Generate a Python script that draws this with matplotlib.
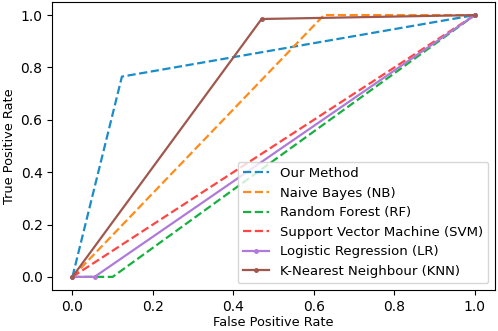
import matplotlib
matplotlib.use("Agg")
import matplotlib.pyplot as plt

labels = ["Our Method", "Naive Bayes (NB)", "Random Forest (RF)",
          "Support Vector Machine (SVM)", "Logistic Regression (LR)",
          "K-Nearest Neighbour (KNN)"]
fpr_ours = [0.0, 0.123, 1.0]
tpr_ours = [0.0, 0.765, 1.0]
fpr_nb = [0.0, 0.625, 1.0]
tpr_nb = [0.0, 1.0, 1.0]
fpr_rf = [0.0, 0.1, 1.0]
tpr_rf = [0.0, 0.0, 1.0]
fpr_svm = [0.0, 1.0]
tpr_svm = [0.0, 1.0]
fpr_lr = [0.0, 0.055, 1.0]
tpr_lr = [0.0, 0.0, 1.0]
fpr_knn = [0.0, 0.47, 1.0]
tpr_knn = [0.0, 0.985, 1.0]

fig = plt.figure(figsize=(4.98, 3.31), dpi=100)
ax = fig.add_axes([0.105, 0.124, 0.889, 0.870])

ax.plot(fpr_ours, tpr_ours, "--", color="#1a8cc8", lw=1.6, label=labels[0])
ax.plot(fpr_nb, tpr_nb, "--", color="#ff8c1a", lw=1.6, label=labels[1])
ax.plot(fpr_rf, tpr_rf, "--", color="#16b040", lw=1.6, label=labels[2])
ax.plot(fpr_svm, tpr_svm, "--", color="#ff4444", lw=1.6, label=labels[3])
ax.plot(fpr_lr, tpr_lr, "-", marker=".", ms=5, color="#b07ad8", lw=1.6, label=labels[4])
ax.plot(fpr_knn, tpr_knn, "-", marker=".", ms=5, color="#a0584e", lw=1.6, label=labels[5])

ax.set_xlabel("False Positive Rate", fontsize=9.3, labelpad=2)
ax.set_ylabel("True Positive Rate", fontsize=9.3, labelpad=3)
ax.tick_params(labelsize=10)
ax.legend(loc="lower right", fontsize=9.5, handlelength=2, borderpad=0.4,
          labelspacing=0.5)

fig.savefig("out.png", dpi=100)
